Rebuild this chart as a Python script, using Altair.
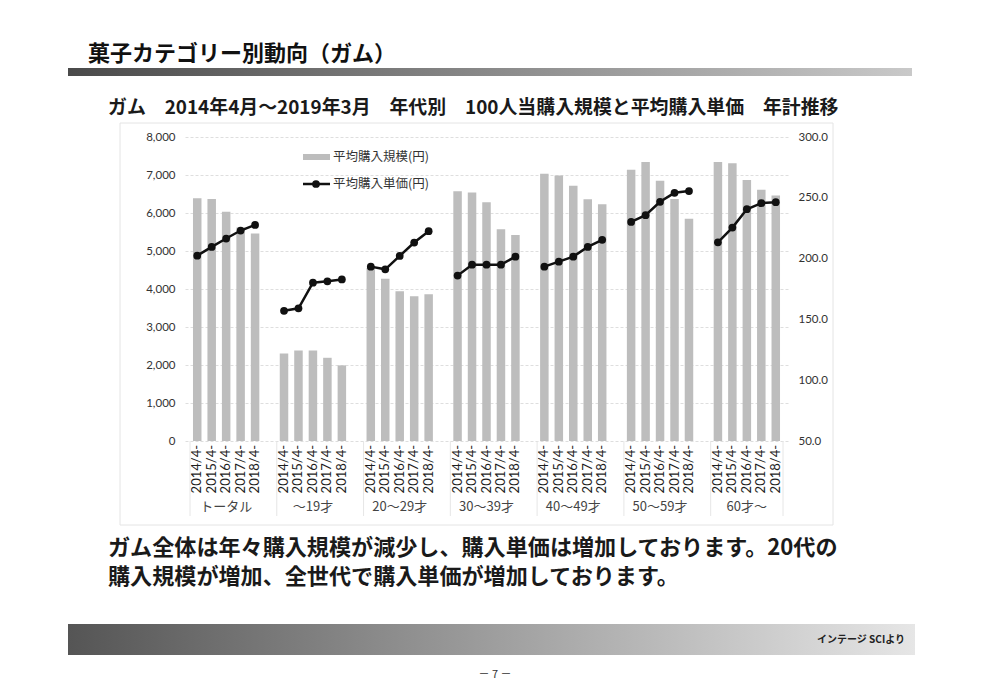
import altair as alt
import pandas as pd

# ---------------- data ----------------
groups = ["トータル", "～19才", "20～29才", "30～39才", "40～49才", "50～59才", "60才～"]
years = ["2014/4-", "2015/4-", "2016/4-", "2017/4-", "2018/4-"]

purchase_scale = [  # 平均購入規模(円)  (left axis)
    [6390, 6370, 6030, 5620, 5460],
    [2300, 2380, 2380, 2190, 1990],
    [4550, 4270, 3940, 3810, 3860],
    [6570, 6540, 6280, 5570, 5420],
    [7030, 6990, 6720, 6360, 6230],
    [7140, 7340, 6850, 6370, 5850],
    [7340, 7310, 6870, 6610, 6460],
]
unit_price = [  # 平均購入単価(円)  (right axis)
    [202.4, 209.6, 216.5, 223.1, 227.7],
    [157.1, 159.1, 180.2, 181.3, 182.9],
    [193.4, 191.2, 202.2, 213.2, 222.5],
    [186.0, 195.0, 195.0, 195.0, 201.6],
    [193.4, 197.5, 201.6, 209.6, 215.4],
    [230.2, 235.7, 246.7, 254.1, 255.5],
    [213.4, 225.5, 240.6, 245.6, 246.4],
]
left_ticks = list(range(0, 8001, 1000))
right_ticks = [50, 100, 150, 200, 250, 300]

# ---------------- tables built from the arrays ----------------
step = len(years) + 1            # 5 bars + one empty slot per group
n_slots = step * len(groups) - 1
rows = []
for gi, g in enumerate(groups):
    for j, y in enumerate(years):
        rows.append({"group": g, "year": y, "slot": gi * step + j,
                     "scale": purchase_scale[gi][j], "price": unit_price[gi][j]})
df = pd.DataFrame(rows)

glabels = pd.DataFrame({
    "group": groups,
    "center": [gi * step + (len(years) - 1) / 2 for gi in range(len(groups))],
})
seps = pd.DataFrame({"pos": [gi * step - 0.5 for gi in range(len(groups))] + [n_slots - 0.5]})
one = pd.DataFrame({"_": [0]})

JP = "Noto Sans CJK JP"
NUM = "Lato, Noto Sans CJK JP"

xs = alt.Scale(domain=[-0.5, n_slots - 0.5], nice=False, zero=False)

# ---------------- chart layers ----------------
frame = alt.Chart(one).mark_rect(fill=None, stroke="#e4e4e4", strokeWidth=1).encode(
    x=alt.value(-65), x2=alt.value(648), y=alt.value(-14), y2=alt.value(388))

bars = alt.Chart(df).mark_bar(size=8.5, color="#bdbdbd").encode(
    x=alt.X("slot:Q", scale=xs, axis=None),
    y=alt.Y("scale:Q", scale=alt.Scale(domain=[0, 8000], nice=False), axis=alt.Axis(
        values=left_ticks, format=",.0f", title=None, ticks=False, domain=False,
        gridColor="#d6d6d6", gridDash=[3, 2], gridWidth=0.8, labelPadding=10,
        labelFont=NUM, labelFontSize=11.5, labelColor="#333")),
)

line = alt.Chart(df).mark_line(
    color="#111", strokeWidth=2.5,
    point=alt.OverlayMarkDef(filled=True, size=60, color="#111")).encode(
    x=alt.X("slot:Q", scale=xs, axis=None),
    y=alt.Y("price:Q", scale=alt.Scale(domain=[50, 300], nice=False, zero=False), axis=alt.Axis(
        orient="right", values=right_ticks, format=".1f", title=None, ticks=False,
        domain=False, grid=False, labelPadding=10, labelFont=NUM, labelFontSize=11.5,
        labelColor="#333")),
    detail="group:N",
)

year_text = alt.Chart(df).mark_text(font=NUM, fontSize=13, color="#1e1e1e", angle=270,
                                    align="right", baseline="middle").encode(
    x=alt.X("slot:Q", scale=xs, axis=None), y=alt.value(308), text="year:N")

separators = alt.Chart(seps).mark_rule(color="#e6e6e6", strokeWidth=1).encode(
    x=alt.X("pos:Q", scale=xs, axis=None), y=alt.value(304), y2=alt.value(379))

group_text = alt.Chart(glabels).mark_text(font=JP, fontSize=13, color="#444",
                                          baseline="middle").encode(
    x=alt.X("center:Q", scale=xs, axis=None), y=alt.value(370), text="group:N")

# legend (manual, inside plot)
leg_bar = alt.Chart(one).mark_rect(color="#bdbdbd").encode(
    x=alt.value(118), x2=alt.value(145), y=alt.value(17), y2=alt.value(23))
leg_bar_t = alt.Chart(one).mark_text(font=JP, fontSize=12.5, color="#333", align="left",
                                     baseline="middle").encode(
    x=alt.value(148), y=alt.value(20), text=alt.value("平均購入規模(円)"))
leg_line = alt.Chart(one).mark_rule(color="#111", strokeWidth=2.5).encode(
    x=alt.value(118), x2=alt.value(145), y=alt.value(47))
leg_pt = alt.Chart(one).mark_point(filled=True, size=60, color="#111", opacity=1).encode(
    x=alt.value(131), y=alt.value(47))
leg_line_t = alt.Chart(one).mark_text(font=JP, fontSize=12.5, color="#333", align="left",
                                      baseline="middle").encode(
    x=alt.value(148), y=alt.value(47), text=alt.value("平均購入単価(円)"))

# page furniture
def grad(c0, c1):
    return alt.Gradient(gradient="linear", x1=0, x2=1, y1=0, y2=0,
                        stops=[alt.GradientStop(color=c0, offset=0),
                               alt.GradientStop(color=c1, offset=1)])

title = alt.Chart(one).mark_text(font=JP, fontSize=22, fontWeight="bold", color="#111",
                                 align="left", baseline="middle").encode(
    x=alt.value(-97), y=alt.value(-83), text=alt.value("菓子カテゴリー別動向（ガム）"))
title_bar = alt.Chart(one).mark_rect(fill=grad("#4a4a4a", "#c9c9c9")).encode(
    x=alt.value(-117), x2=alt.value(727), y=alt.value(-69), y2=alt.value(-61))
subtitle = alt.Chart(one).mark_text(font=JP, fontSize=18.9, fontWeight="bold", color="#1a1a1a",
                                    align="left", baseline="middle").encode(
    x=alt.value(-77), y=alt.value(-29),
    text=alt.value("ガム　2014年4月～2019年3月　年代別　100人当購入規模と平均購入単価　年計推移"))
body1 = alt.Chart(one).mark_text(font=JP, fontSize=22.1, fontWeight="bold", color="#1a1a1a",
                                 align="left", baseline="middle").encode(
    x=alt.value(-77), y=alt.value(411),
    text=alt.value("ガム全体は年々購入規模が減少し、購入単価は増加しております。20代の"))
body2 = alt.Chart(one).mark_text(font=JP, fontSize=22.1, fontWeight="bold", color="#1a1a1a",
                                 align="left", baseline="middle").encode(
    x=alt.value(-77), y=alt.value(440),
    text=alt.value("購入規模が増加、全世代で購入単価が増加しております。"))
foot_bar = alt.Chart(one).mark_rect(fill=grad("#555555", "#e6e6e6")).encode(
    x=alt.value(-117), x2=alt.value(730), y=alt.value(487), y2=alt.value(518))
foot_text = alt.Chart(one).mark_text(font=JP, fontSize=10, fontWeight="bold", color="#222",
                                     align="right", baseline="middle").encode(
    x=alt.value(720), y=alt.value(503), text=alt.value("インテージ SCIより"))
page_no = alt.Chart(one).mark_text(font=JP, fontSize=11, color="#333",
                                   align="center", baseline="middle").encode(
    x=alt.value(310), y=alt.value(538), text=alt.value("－ 7 －"))

chart = alt.layer(
    frame, bars, line, year_text, separators, group_text,
    leg_bar, leg_bar_t, leg_line, leg_pt, leg_line_t,
    title, title_bar, subtitle, body1, body2, foot_bar, foot_text, page_no,
).resolve_scale(y="independent").properties(
    width=603, height=304,
    autosize=alt.AutoSizeParams(type="none"),
    padding={"left": 177, "top": 129, "right": 190, "bottom": 243},
    background="white",
).configure_view(stroke=None)

chart.save("out.html", embed_options={"renderer": "svg", "actions": False})
